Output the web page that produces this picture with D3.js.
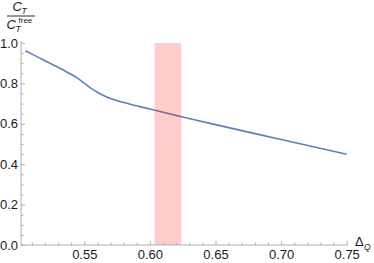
<!DOCTYPE html>
<html>
<head>
<meta charset="utf-8">
<script src="https://cdn.jsdelivr.net/npm/d3@7"></script>
<style>
  body { margin: 0; background: #fff; }
  text { font-family: "Liberation Sans", Arial, sans-serif; fill: #1a1a1a; }
</style>
</head>
<body>
<div id="chart"></div>
<script>
// data
const deltaQ = [0.505, 0.515, 0.525, 0.535, 0.54, 0.545, 0.55, 0.555, 0.56, 0.565, 0.57, 0.575, 0.58, 0.59, 0.60, 0.625, 0.65, 0.70, 0.75];
const ctRatio = [0.962, 0.929, 0.896, 0.863, 0.845, 0.825, 0.801, 0.777, 0.756, 0.739, 0.725, 0.714, 0.705, 0.689, 0.673, 0.634, 0.596, 0.522, 0.449];
const bandX = [0.6035, 0.6240];
const bandY = [0, 1.0];
const xMajor = [0.55, 0.60, 0.65, 0.70, 0.75];
const xMinor = [0.51, 0.52, 0.53, 0.54, 0.56, 0.57, 0.58, 0.59, 0.61, 0.62, 0.63, 0.64, 0.66, 0.67, 0.68, 0.69, 0.71, 0.72, 0.73, 0.74];
const yMajor = [0, 0.2, 0.4, 0.6, 0.8, 1.0];
const yMinor = [0.05, 0.1, 0.15, 0.25, 0.3, 0.35, 0.45, 0.5, 0.55, 0.65, 0.7, 0.75, 0.85, 0.9, 0.95];

const width = 374;
const height = 263;

const svg = d3.select("#chart")
  .append("svg")
  .attr("width", width)
  .attr("height", height);

const x = d3.scaleLinear().domain([0.5, 0.75]).range([18.7, 346.7]);
const y = d3.scaleLinear().domain([0, 1]).range([245, 43]);
const x0 = 0.5018;

const points = deltaQ.map((d, i) => [d, ctRatio[i]]);

// line
const line = d3.line()
  .x(d => x(d[0]))
  .y(d => y(d[1]))
  .curve(d3.curveCatmullRom.alpha(0.5));

svg.append("path")
  .datum(points)
  .attr("fill", "none")
  .attr("stroke", "#5E81B5")
  .attr("stroke-width", 1.6)
  .attr("d", line);

// shaded band, drawn on top with transparency
svg.append("rect")
  .attr("x", x(bandX[0]))
  .attr("y", y(bandY[1]))
  .attr("width", x(bandX[1]) - x(bandX[0]))
  .attr("height", y(bandY[0]) - y(bandY[1]))
  .attr("fill", "#ff0000")
  .attr("fill-opacity", 0.2);

// axes
const axisColor = "#b0b0b0";

const gx = svg.append("g").attr("transform", `translate(0,${y(0)})`);
gx.call(d3.axisBottom(x).tickValues(xMajor).tickSize(-4).tickPadding(5).tickFormat(d3.format(".2f")));
gx.append("g").call(d3.axisBottom(x).tickValues(xMinor).tickSize(-2.5).tickFormat(""));
gx.selectAll(".domain").remove();
gx.append("line")
  .attr("x1", x(x0)).attr("x2", x(0.751))
  .attr("stroke", axisColor);

const gy = svg.append("g").attr("transform", `translate(${x(x0)},0)`);
gy.call(d3.axisLeft(y).tickValues(yMajor).tickSize(-4).tickPadding(3).tickFormat(d3.format(".1f")));
gy.append("g").call(d3.axisLeft(y).tickValues(yMinor).tickSize(-2.5).tickFormat(""));
gy.selectAll(".domain").remove();
gy.append("line")
  .attr("y1", y(0)).attr("y2", y(1.01))
  .attr("stroke", axisColor);

svg.selectAll(".tick line").attr("stroke", axisColor);
svg.selectAll(".tick text")
  .attr("font-size", 13)
  .attr("font-family", "'Liberation Sans', Arial, sans-serif")
  .attr("fill", "#1a1a1a");

// y axis label: C_T / C_T^free
const yl = svg.append("g");
yl.append("text").attr("x", 12.5).attr("y", 11).attr("font-size", 13).attr("font-style", "italic").text("C");
yl.append("text").attr("x", 21.5).attr("y", 13.5).attr("font-size", 8.5).attr("font-style", "italic").text("T");
yl.append("line").attr("x1", 7).attr("x2", 35).attr("y1", 16).attr("y2", 16)
  .attr("stroke", "#1a1a1a").attr("stroke-width", 0.9);
yl.append("text").attr("x", 6.5).attr("y", 28.5).attr("font-size", 13).attr("font-style", "italic").text("C");
yl.append("text").attr("x", 15.5).attr("y", 32).attr("font-size", 8.5).attr("font-style", "italic").text("T");
yl.append("text").attr("x", 18.5).attr("y", 23).attr("font-size", 8).text("free");

// x axis label: Δ_Q
svg.append("text").attr("x", 355).attr("y", 246).attr("font-size", 13).text("Δ");
svg.append("text").attr("x", 364).attr("y", 249.5).attr("font-size", 8.5).attr("font-style", "italic").text("Q");
</script>
</body>
</html>
